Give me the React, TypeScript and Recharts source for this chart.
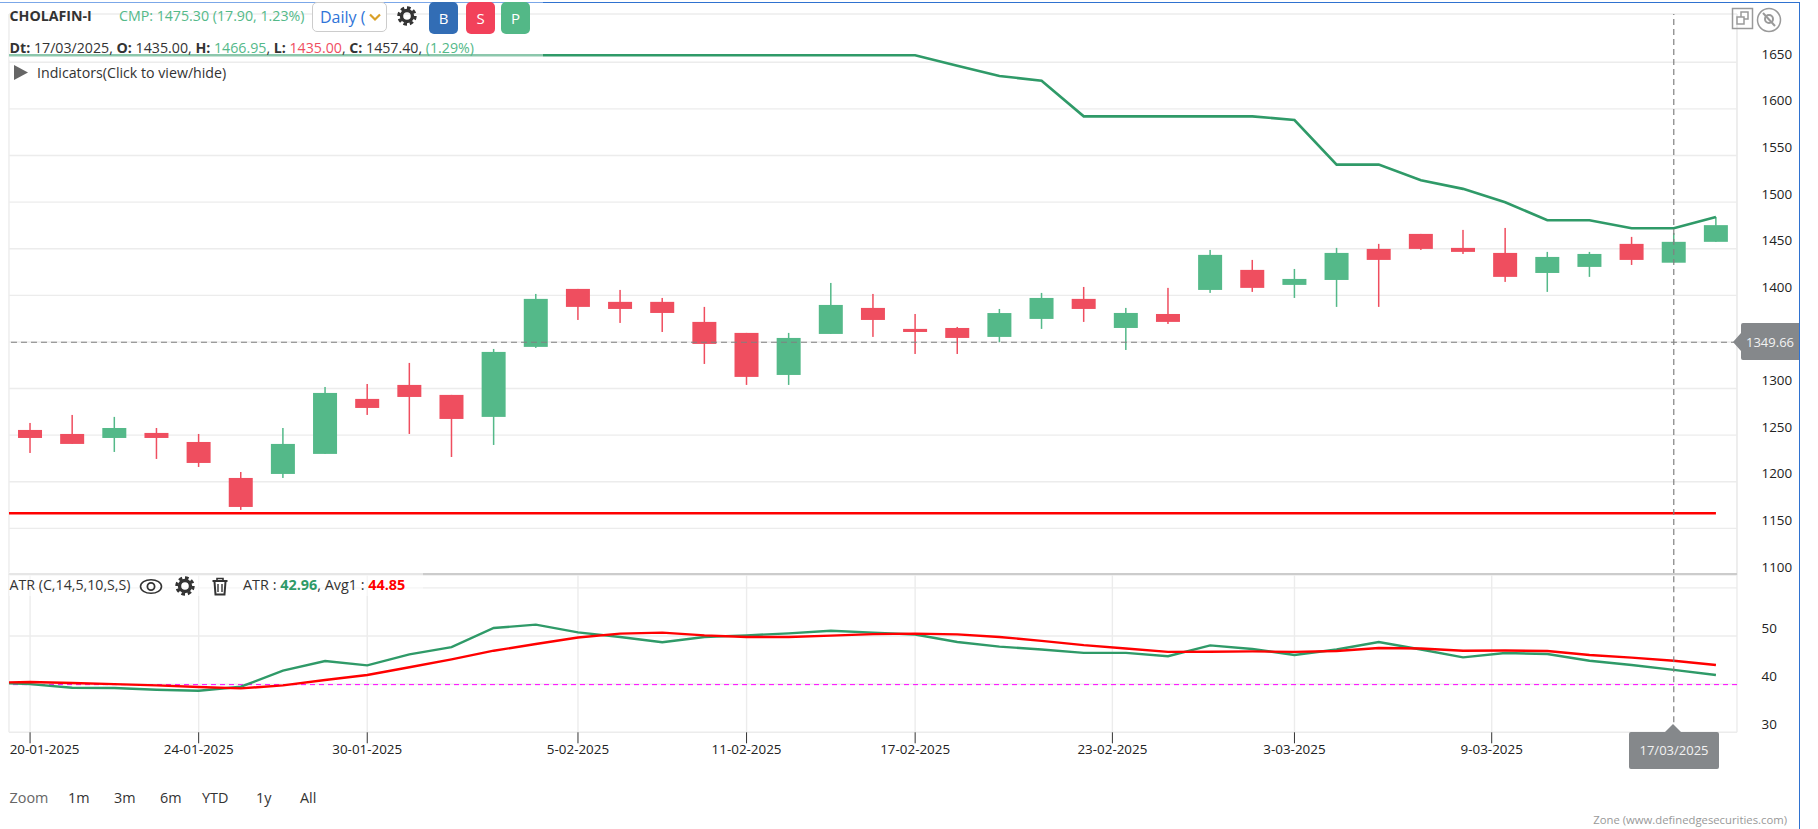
import React from "react";
import {
  Bar,
  CartesianGrid,
  ComposedChart,
  Line,
  ReferenceLine,
  XAxis,
  YAxis,
} from "recharts";

const FONT = "'Open Sans', sans-serif";
const RED = "#ef4e5f";
const GREEN = "#54b989";
const LINE_GREEN = "#2f9a68";
const GRID = "#ececec";
const BODY_WIDTH = 24;

// daily candles 20-01-2025 .. 18-03-2025
const opens = [1255.6, 1251.3, 1247, 1252.4, 1242.7, 1204.1, 1208.4, 1229.9, 1288.9, 1303.9, 1293.2, 1269.6, 1344.7, 1406.9, 1393, 1393, 1371.5, 1359.7, 1314.6, 1358.6, 1386.5, 1364, 1365, 1355.4, 1374.7, 1396.2, 1365, 1380, 1405.8, 1427.3, 1411.2, 1416.5, 1449.8, 1465.9, 1450.9, 1445.5, 1424, 1430.5, 1455.2, 1435, 1457.4];
const highs = [1263.1, 1271.7, 1269.6, 1257.7, 1251.3, 1210.5, 1257.7, 1301.7, 1304.9, 1327.5, 1293.2, 1342.5, 1401.5, 1406.9, 1405.8, 1397.2, 1387.6, 1359.7, 1359.7, 1413.3, 1401.5, 1380, 1366.1, 1385.4, 1402.6, 1409, 1386.5, 1408, 1448.7, 1438, 1428.3, 1450.9, 1455.2, 1465.9, 1470.2, 1472.3, 1446.6, 1446.6, 1462.7, 1466.95, 1484.1];
const lows = [1230.9, 1240.6, 1232, 1224.5, 1215.9, 1169.8, 1204.1, 1229.9, 1271.7, 1251.3, 1226.6, 1239.5, 1343.6, 1373.6, 1370.4, 1360.7, 1326.4, 1303.9, 1303.9, 1358.6, 1355.4, 1337.1, 1337.1, 1349.7, 1364, 1371.5, 1341.4, 1369.3, 1402.6, 1403.7, 1397.2, 1387.6, 1387.6, 1448.7, 1444.4, 1414.4, 1403.7, 1419.8, 1432.6, 1435, 1457.4];
const closes = [1247, 1240.6, 1257.7, 1247, 1220.2, 1173, 1240.6, 1295.3, 1279.2, 1291, 1267.4, 1339.3, 1396.2, 1387.6, 1385.4, 1381.1, 1347.9, 1312.5, 1354.3, 1389.7, 1373.6, 1360.7, 1354.3, 1381, 1397.2, 1385.4, 1381.1, 1371.5, 1443.4, 1408, 1417.6, 1445.5, 1438, 1449.8, 1446.6, 1419.8, 1441.2, 1444.4, 1438, 1457.4, 1475.3];

const trendLine = [1657.5, 1657.5, 1657.5, 1657.5, 1657.5, 1657.5, 1657.5, 1657.5, 1657.5, 1657.5, 1657.5, 1657.5, 1657.5, 1657.5, 1657.5, 1657.5, 1657.5, 1657.5, 1657.5, 1657.5, 1657.5, 1657.5, 1646.4, 1635.3, 1630.3, 1592, 1592, 1592, 1592, 1592, 1588.1, 1540.2, 1540.2, 1523.5, 1514.2, 1499.9, 1480.6, 1480.6, 1472, 1472, 1484.1];
const floorLine = [1166.2, 1166.2, 1166.2, 1166.2, 1166.2, 1166.2, 1166.2, 1166.2, 1166.2, 1166.2, 1166.2, 1166.2, 1166.2, 1166.2, 1166.2, 1166.2, 1166.2, 1166.2, 1166.2, 1166.2, 1166.2, 1166.2, 1166.2, 1166.2, 1166.2, 1166.2, 1166.2, 1166.2, 1166.2, 1166.2, 1166.2, 1166.2, 1166.2, 1166.2, 1166.2, 1166.2, 1166.2, 1166.2, 1166.2, 1166.2, 1166.2];

const atrValues = [40, 39.26, 39.2, 38.84, 38.63, 39.47, 42.8, 44.8, 43.9, 46.2, 47.7, 51.66, 52.36, 50.76, 49.8, 48.7, 49.8, 50.14, 50.55, 51.1, 50.7, 50.3, 48.75, 47.8, 47.2, 46.5, 46.5, 45.8, 48.06, 47.3, 46.05, 47.2, 48.75, 47.2, 45.56, 46.47, 46.26, 44.87, 43.97, 42.96, 41.9];
const avgValues = [40.44, 40.23, 40, 39.74, 39.4, 39.12, 39.74, 40.85, 41.9, 43.5, 45.15, 46.95, 48.34, 49.7, 50.5, 50.7, 50.14, 49.8, 49.8, 50.07, 50.4, 50.5, 50.35, 49.8, 49, 48.1, 47.4, 46.7, 46.74, 46.8, 46.7, 46.9, 47.5, 47.4, 46.95, 47, 46.88, 46.05, 45.5, 44.85, 43.97];

// values where the lines leave the left edge of the plot
const edgeTrend = 1657.5;
const edgeFloor = 1166.2;
const edgeAtr = 40.16;
const edgeAvg = 40.37;

const priceTicks = [1100, 1150, 1200, 1250, 1300, 1350, 1400, 1450, 1500, 1550, 1600, 1650, 1701.8];
const atrTicks = [30, 40, 50, 60];
const hiddenTicks = [1350, 1701.8, 60];
const dateTicks = [0, 4, 8, 13, 17, 21, 25.68, 30, 34.68];
const dateLabels = ["20-01-2025", "24-01-2025", "30-01-2025", "5-02-2025", "11-02-2025", "17-02-2025", "23-02-2025", "3-03-2025", "9-03-2025"];

const rows = [
  { x: -0.5, trend: edgeTrend, floor: edgeFloor, atr: edgeAtr, avg: edgeAvg, range: null as any, open: 0, close: 0 },
  ...opens.map((open, i) => ({
    x: i,
    open,
    close: closes[i],
    range: [lows[i], highs[i]],
    trend: trendLine[i],
    floor: floorLine[i],
    atr: atrValues[i],
    avg: avgValues[i],
  })),
];

function Candle(props: any) {
  const { x, y, width, height, payload } = props;
  if (!payload || !payload.range || !height) return null;
  const [low, high] = payload.range;
  const perUnit = height / (high - low);
  const top = Math.max(payload.open, payload.close);
  const bottom = Math.min(payload.open, payload.close);
  const color = payload.close >= payload.open ? GREEN : RED;
  const center = x + width / 2;
  return (
    <g>
      <rect x={center - 0.75} y={y} width={1.5} height={height} fill={color} />
      <rect
        x={center - BODY_WIDTH / 2}
        y={y + (high - top) * perUnit}
        width={BODY_WIDTH}
        height={Math.max((top - bottom) * perUnit, 1)}
        fill={color}
      />
    </g>
  );
}

function ValueTick(props: any) {
  const { x, y, payload } = props;
  if (hiddenTicks.includes(payload.value)) return <g />;
  return (
    <text x={x + 16.5} y={y - 3.5} fill="#222" fontSize={13.4} fontFamily={FONT}>
      {payload.value}
    </text>
  );
}

function DateTick(props: any) {
  const { x, y, payload } = props;
  const i = dateTicks.indexOf(payload.value);
  if (i < 0) return <g />;
  // first label is pushed right to stay inside the plot
  const shift = i === 0 ? 14.5 : 0;
  return (
    <text x={x + shift} y={y + 9} textAnchor="middle" fill="#222" fontSize={13.4} fontFamily={FONT}>
      {dateLabels[i]}
    </text>
  );
}

function Label({ x, y, color = "#333", size = 14.2, bold = false, children }: any) {
  return (
    <div
      style={{
        position: "absolute",
        left: x,
        top: y,
        color,
        fontSize: size,
        fontWeight: bold ? 700 : 400,
        fontFamily: FONT,
        whiteSpace: "nowrap",
        lineHeight: "18px",
      }}
    >
      {children}
    </div>
  );
}

function Gear({ x, y, size = 20 }: any) {
  return (
    <svg style={{ position: "absolute", left: x, top: y }} width={size} height={size} viewBox="0 0 20 20">
      <circle cx={10} cy={10} r={5.5} fill="none" stroke="#333" strokeWidth={3.4} />
      <circle cx={10} cy={10} r={8.2} fill="none" stroke="#333" strokeWidth={3} strokeDasharray="3.6 2.8" />
    </svg>
  );
}

function Square({ x, color, text }: any) {
  return (
    <div
      style={{
        position: "absolute",
        left: x,
        top: 2,
        width: 29,
        height: 32,
        borderRadius: 5,
        background: color,
        color: "#fff",
        fontFamily: FONT,
        fontSize: 15,
        lineHeight: "32px",
        textAlign: "center",
      }}
    >
      {text}
    </div>
  );
}

export default function App() {
  return (
    <div style={{ position: "absolute", left: 0, top: 0, width: 1818, height: 829, background: "#fff", overflow: "hidden" }}>
      <div style={{ position: "absolute", left: 0, top: 0 }}>
        <ComposedChart width={1799} height={600} data={rows} margin={{ top: 14, right: 0, bottom: 25, left: 9 }}>
          <CartesianGrid stroke={GRID} strokeWidth={1.4} />
          <XAxis
            dataKey="x"
            type="number"
            domain={[-0.5, 40.5]}
            ticks={dateTicks}
            allowDataOverflow
            height={0}
            tick={false}
            axisLine={false}
            tickLine={false}
          />
          <YAxis
            orientation="right"
            width={62}
            type="number"
            domain={[1100, 1701.8]}
            ticks={priceTicks}
            interval={0}
            allowDataOverflow
            tick={ValueTick}
            axisLine={false}
            tickLine={false}
          />
          <ReferenceLine x={40.5} stroke={GRID} strokeWidth={1.4} />
          <Bar dataKey="range" barSize={24} shape={Candle} isAnimationActive={false} legendType="none" />
          <Line dataKey="floor" stroke="#ff0000" strokeWidth={2.6} dot={false} activeDot={false} isAnimationActive={false} />
          <Line dataKey="trend" stroke={LINE_GREEN} strokeWidth={2.6} dot={false} activeDot={false} isAnimationActive={false} />
          <ReferenceLine y={1349.66} stroke="#808080" strokeWidth={1.2} strokeDasharray="6 4" />
          <ReferenceLine x={39} stroke="#808080" strokeWidth={1.2} strokeDasharray="6 4" />
        </ComposedChart>
      </div>

      <div style={{ position: "absolute", left: 0, top: 560 }}>
        <ComposedChart width={1799} height={220} data={rows} margin={{ top: 14, right: 0, bottom: 0, left: 9 }}>
          <CartesianGrid stroke={GRID} strokeWidth={1.4} />
          <XAxis
            dataKey="x"
            type="number"
            domain={[-0.5, 40.5]}
            ticks={dateTicks}
            interval={0}
            allowDataOverflow
            height={47.7}
            tickSize={11}
            tick={DateTick}
            axisLine={false}
            tickLine={{ stroke: "#333" }}
          />
          <YAxis
            orientation="right"
            width={62}
            type="number"
            domain={[30, 62.88]}
            ticks={atrTicks}
            interval={0}
            allowDataOverflow
            tick={ValueTick}
            axisLine={false}
            tickLine={false}
          />
          <ReferenceLine y={62.88} stroke="#cccccc" strokeWidth={2} />
          <ReferenceLine y={39.9} stroke="#ff00ff" strokeWidth={1} strokeDasharray="5 4" />
          <Line dataKey="atr" stroke={LINE_GREEN} strokeWidth={2.4} dot={false} activeDot={false} isAnimationActive={false} />
          <Line dataKey="avg" stroke="#ff0000" strokeWidth={2.4} dot={false} activeDot={false} isAnimationActive={false} />
          <ReferenceLine x={39} stroke="#808080" strokeWidth={1.2} strokeDasharray="6 4" />
        </ComposedChart>
      </div>

      {/* chart frame */}
      <div style={{ position: "absolute", left: 0, top: 2, width: 543, height: 1, background: "#7ba7e8" }} />
      <div style={{ position: "absolute", left: 543, top: 2, width: 1257, height: 1, background: "#2f72d0" }} />
      <div style={{ position: "absolute", left: 1799, top: 2, width: 1, height: 827, background: "#2f72d0" }} />

      {/* header washes over the plot */}
      <div style={{ position: "absolute", left: 9, top: 40, width: 534, height: 20, background: "rgba(255,255,255,0.45)" }} />
      <div style={{ position: "absolute", left: 9, top: 572, width: 414, height: 24, background: "rgba(255,255,255,0.5)" }} />

      <Label x={9.5} y={7} bold>CHOLAFIN-I</Label>
      <Label x={119} y={7} color={GREEN}>CMP: 1475.30 (17.90, 1.23%)</Label>
      <div style={{ position: "absolute", left: 312, top: 2, width: 73, height: 28, border: "1px solid #ccc", borderRadius: 5, background: "#fff", overflow: "hidden" }}>
        <div style={{ position: "absolute", left: 7, top: 4, width: 46, overflow: "hidden", color: "#2f74d8", fontFamily: FONT, fontSize: 16, lineHeight: "20px", whiteSpace: "nowrap" }}>Daily (a</div>
        <svg style={{ position: "absolute", left: 56, top: 10 }} width={12} height={9}>
          <path d="M1 1.5 L6 6.5 L11 1.5" fill="none" stroke="#d9a028" strokeWidth={2.2} />
        </svg>
      </div>
      <Gear x={397} y={6} />
      <Square x={429} color="#326db5" text="B" />
      <Square x={466} color="#f2415a" text="S" />
      <Square x={501} color="#53b887" text="P" />

      <Label x={9.5} y={39}>
        <b>Dt:</b> 17/03/2025, <b>O:</b> 1435.00, <b>H:</b> <span style={{ color: GREEN }}>1466.95</span>, <b>L:</b>{" "}
        <span style={{ color: RED }}>1435.00</span>, <b>C:</b> 1457.40, <span style={{ color: GREEN }}>(1.29%)</span>
      </Label>
      <svg style={{ position: "absolute", left: 14, top: 65 }} width={14} height={15}>
        <path d="M0 0 L14 7.5 L0 15 Z" fill="#666" />
      </svg>
      <Label x={37} y={63.5}>Indicators(Click to view/hide)</Label>

      {/* top right buttons */}
      <svg style={{ position: "absolute", left: 1731, top: 7 }} width={54} height={27} fill="none" stroke="#9a9a9a">
        <rect x={1.5} y={1.5} width={20} height={20} strokeWidth={1.5} />
        <rect x={10} y={5} width={7} height={7} strokeWidth={1.5} />
        <rect x={6} y={10} width={7} height={7} fill="#fff" strokeWidth={1.5} />
        <circle cx={38} cy={13} r={11.5} strokeWidth={1.5} />
        <circle cx={38} cy={12} r={4} strokeWidth={2} />
        <path d="M32 6 L44 19" strokeWidth={2} />
      </svg>

      {/* price flag */}
      <svg style={{ position: "absolute", left: 1732, top: 322 }} width={68} height={39}>
        <path d="M1 20 L9 11 V3 Q9 1 11 1 H67 V38 H11 Q9 38 9 36 V29 Z" fill="#85888b" />
        <text x={38} y={25} textAnchor="middle" fill="#f2f2f2" fontFamily={FONT} fontSize={13}>1349.66</text>
      </svg>

      {/* date flag */}
      <svg style={{ position: "absolute", left: 1628, top: 723 }} width={92} height={47}>
        <path d="M45 1 L53 9 H89 Q91 9 91 11 V44 Q91 46 89 46 H3 Q1 46 1 44 V11 Q1 9 3 9 H37 Z" fill="#85888b" />
        <text x={46} y={32} textAnchor="middle" fill="#f2f2f2" fontFamily={FONT} fontSize={13}>17/03/2025</text>
      </svg>

      {/* ATR header */}
      <Label x={9.5} y={576}>ATR (C,14,5,10,S,S)</Label>
      <svg style={{ position: "absolute", left: 139, top: 578 }} width={24} height={17} fill="none" stroke="#333">
        <ellipse cx={12} cy={8.5} rx={10.5} ry={6.8} strokeWidth={1.6} />
        <circle cx={12} cy={8.5} r={3.6} strokeWidth={1.8} />
      </svg>
      <Gear x={175} y={576} />
      <svg style={{ position: "absolute", left: 211, top: 577 }} width={18} height={19} fill="none" stroke="#333">
        <path d="M1.5 4 H16.5" strokeWidth={2} />
        <path d="M6 4 V1.5 H12 V4" strokeWidth={1.6} />
        <path d="M3.5 4.5 L4.5 17.5 H13.5 L14.5 4.5" strokeWidth={2} />
        <path d="M7 7 V15 M11 7 V15" strokeWidth={1.4} />
      </svg>
      <Label x={243} y={576} size={14.4}>
        ATR : <b style={{ color: LINE_GREEN }}>42.96</b>, Avg1 : <b style={{ color: "#ff0000" }}>44.85</b>
      </Label>

      {/* range selector */}
      <Label x={9.5} y={789} color="#666" size={14.4}>Zoom</Label>
      <Label x={68} y={789} size={14.4}>1m</Label>
      <Label x={114} y={789} size={14.4}>3m</Label>
      <Label x={160} y={789} size={14.4}>6m</Label>
      <Label x={202} y={789} size={14.4}>YTD</Label>
      <Label x={256} y={789} size={14.4}>1y</Label>
      <Label x={300} y={789} size={14.4}>All</Label>

      <div style={{ position: "absolute", right: 31, top: 811, color: "#999", fontFamily: FONT, fontSize: 11.3, lineHeight: "18px", whiteSpace: "nowrap" }}>
        Zone (www.definedgesecurities.com)
      </div>
    </div>
  );
}
